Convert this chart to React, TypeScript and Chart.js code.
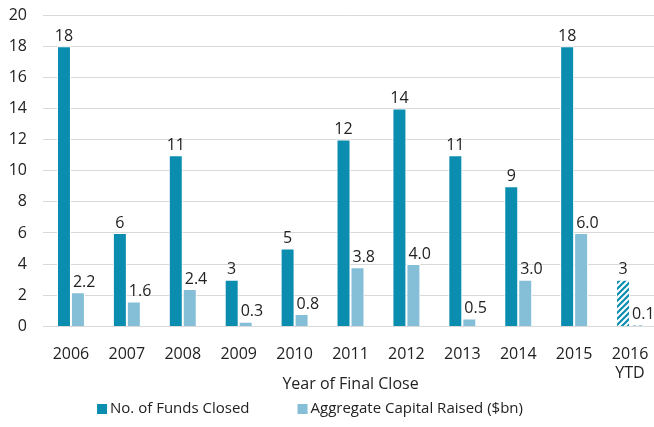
import React, { useEffect, useRef } from "react";
import { Chart, registerables } from "chart.js";

Chart.register(...registerables);

const categories: (string | string[])[] = ["2006", "2007", "2008", "2009", "2010", "2011", "2012", "2013", "2014", "2015", ["2016", "YTD"]];
const fundsClosed = [18, 6, 11, 3, 5, 12, 14, 11, 9, 18, 3];
const capitalRaised = [2.2, 1.6, 2.4, 0.3, 0.8, 3.8, 4.0, 0.5, 3.0, 6.0, 0.1];
const yTicks = [0, 2, 4, 6, 8, 10, 12, 14, 16, 18, 20];
const seriesNames = ["No. of Funds Closed", "Aggregate Capital Raised ($bn)"];

const DARK = "#0b8db0";
const LIGHT = "#85bed7";
const TEXT = "#222222";
const FONT = "'Open Sans', sans-serif";

function hatch(color: string): CanvasPattern | string {
  const c = document.createElement("canvas");
  const s = 6;
  c.width = s;
  c.height = s;
  const ctx = c.getContext("2d");
  if (!ctx) return color;
  ctx.fillStyle = "#ffffff";
  ctx.fillRect(0, 0, s, s);
  ctx.strokeStyle = color;
  ctx.lineWidth = 2.2;
  ctx.beginPath();
  ctx.moveTo(0, s);
  ctx.lineTo(s, 0);
  ctx.moveTo(-s / 2, s / 2);
  ctx.lineTo(s / 2, -s / 2);
  ctx.moveTo(s / 2, s * 1.5);
  ctx.lineTo(s * 1.5, s / 2);
  ctx.stroke();
  return ctx.createPattern(c, "repeat") || color;
}

const labelPlugin = {
  id: "barLabels",
  afterDatasetsDraw(chart: any) {
    const ctx = chart.ctx;
    ctx.save();
    ctx.font = `16px ${FONT}`;
    ctx.fillStyle = TEXT;
    chart.data.datasets.forEach((ds: any, di: number) => {
      const meta = chart.getDatasetMeta(di);
      meta.data.forEach((el: any, i: number) => {
        const v = ds.data[i];
        const txt = di === 0 ? String(v) : v.toFixed(1);
        ctx.textBaseline = "bottom";
        if (di === 0) {
          ctx.textAlign = "center";
          ctx.fillText(txt, el.x, el.y - 2);
        } else {
          ctx.textAlign = "left";
          ctx.fillText(txt, el.x - 5, el.y - 2);
        }
      });
    });
    ctx.restore();
  },
};

const legendPlugin = {
  id: "customLegend",
  afterDraw(chart: any) {
    const ctx = chart.ctx;
    ctx.save();
    ctx.font = `15px ${FONT}`;
    const colors = [DARK, LIGHT];
    const box = 10;
    const gapBox = 3;
    const gapItem = 48;
    const widths = seriesNames.map((n) => ctx.measureText(n).width);
    const total = widths.reduce((a, w) => a + box + gapBox + w, 0) + gapItem * (seriesNames.length - 1);
    let x = 310 - total / 2;
    const y = chart.height - 18;
    seriesNames.forEach((name, i) => {
      ctx.fillStyle = colors[i];
      ctx.fillRect(x, y - box / 2, box, box);
      x += box + gapBox;
      ctx.fillStyle = TEXT;
      ctx.textAlign = "left";
      ctx.textBaseline = "middle";
      ctx.fillText(name, x, y);
      x += widths[i] + gapItem;
    });
    ctx.restore();
  },
};

export default function App() {
  const ref = useRef<HTMLCanvasElement>(null);
  useEffect(() => {
    document.documentElement.style.overflow = "hidden";
    document.body.style.margin = "0";
    document.body.style.overflow = "hidden";
    const last = categories.length - 1;
    const darkColors = fundsClosed.map((_, i) => (i === last ? hatch(DARK) : DARK));
    const lightColors = capitalRaised.map((_, i) => (i === last ? hatch(LIGHT) : LIGHT));
    const chart = new Chart(ref.current as HTMLCanvasElement, {
      type: "bar",
      data: {
        labels: categories,
        datasets: [
          {
            label: seriesNames[0],
            data: fundsClosed,
            backgroundColor: darkColors as any,
            borderColor: "#ffffff",
            borderWidth: 1,
            categoryPercentage: 0.5,
            barPercentage: 1,
          },
          {
            label: seriesNames[1],
            data: capitalRaised,
            backgroundColor: lightColors as any,
            borderColor: "#ffffff",
            borderWidth: 1,
            categoryPercentage: 0.5,
            barPercentage: 1,
          },
        ],
      },
      options: {
        animation: false,
        responsive: false,
        layout: { padding: { left: 9, right: 0, top: 0, bottom: 33 } },
        plugins: {
          tooltip: { enabled: false },
          legend: { display: false },
        },
        scales: {
          x: {
            grid: { display: false, drawTicks: false },
            border: { display: false },
            afterFit: (axis: any) => {
              axis.paddingLeft = 0;
              axis.paddingRight = 0;
            },
            ticks: { font: { family: FONT, size: 16, lineHeight: 1.2 }, color: TEXT, maxRotation: 0, padding: 18 },
            title: {
              display: true,
              text: "Year of Final Close",
              font: { family: FONT, size: 16, lineHeight: 1.2 },
              color: TEXT,
              padding: { top: -26, bottom: 0 },
            },
          },
          y: {
            min: 0,
            max: 20,
            afterBuildTicks: (axis: any) => {
              axis.ticks = yTicks.map((v) => ({ value: v }));
            },
            afterFit: (axis: any) => {
              axis.width = 34;
              axis.paddingTop = 15;
              axis.paddingBottom = 0;
            },
            grid: { color: "#d9d9d9", drawTicks: false },
            border: { display: false },
            ticks: { font: { family: FONT, size: 16 }, color: TEXT, padding: 16 },
          },
        },
      },
      plugins: [labelPlugin, legendPlugin],
    });
    return () => chart.destroy();
  }, []);
  return <canvas ref={ref} width={658} height={427} style={{ display: "block" }} />;
}
